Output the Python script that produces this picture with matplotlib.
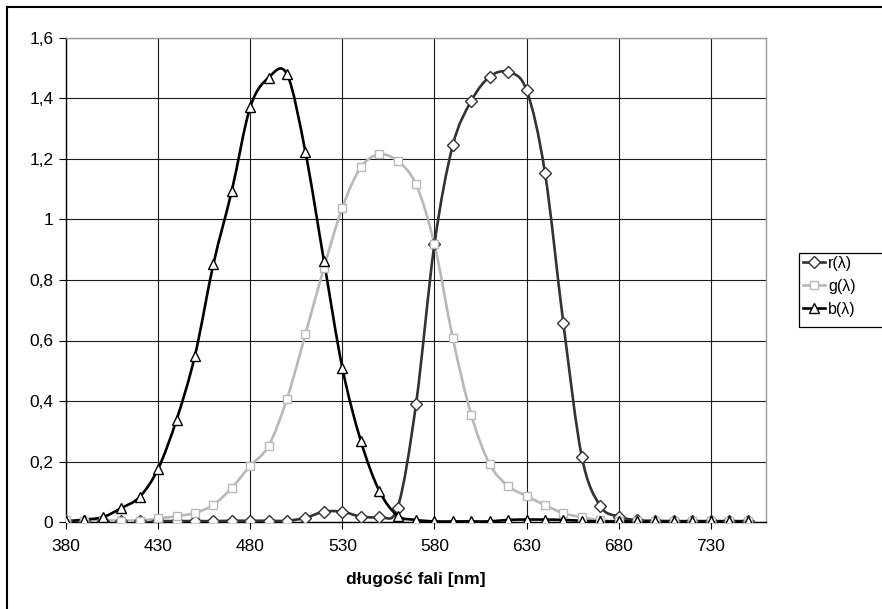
import numpy as np
import matplotlib
matplotlib.use("Agg")
import matplotlib.pyplot as plt
from matplotlib.path import Path
from matplotlib.patches import PathPatch, Rectangle
from matplotlib.lines import Line2D
from matplotlib.ticker import FuncFormatter, MultipleLocator

plt.rcParams['font.family'] = ['Liberation Sans', 'DejaVu Sans']

# data -----------------------------------------------------------------------
wavelength = list(range(380, 760, 10))

r_vals = [0.003, 0.003, 0.003, 0.003, 0.003, 0.003, 0.003, 0.003, 0.003, 0.004,
          0.004, 0.004, 0.004, 0.014, 0.034, 0.034, 0.018, 0.018, 0.047, 0.389,
          0.918, 1.246, 1.392, 1.472, 1.487, 1.428, 1.155, 0.657, 0.216, 0.053,
          0.018, 0.006, 0.004, 0.003, 0.003, 0.003, 0.003, 0.003]

g_vals = [0.005, 0.004, 0.004, 0.003, 0.004, 0.012, 0.019, 0.030, 0.057, 0.113,
          0.186, 0.252, 0.408, 0.621, 0.840, 1.039, 1.172, 1.215, 1.193, 1.116,
          0.918, 0.607, 0.354, 0.191, 0.119, 0.086, 0.056, 0.029, 0.016, 0.006,
          0.003, 0.002, 0.002, 0.002, 0.002, 0.002, 0.002, 0.002]

b_vals = [0.002, 0.008, 0.016, 0.046, 0.083, 0.176, 0.338, 0.550, 0.852, 1.095,
          1.371, 1.469, 1.480, 1.222, 0.864, 0.510, 0.269, 0.104, 0.021, 0.007,
          0.002, 0.002, 0.002, 0.002, 0.007, 0.008, 0.008, 0.007, 0.004, 0.002,
          0.002, 0.002, 0.002, 0.002, 0.002, 0.002, 0.002, 0.002]

labels = ["r(λ)", "g(λ)", "b(λ)"]
x_ticks = list(range(380, 760, 50))


def smooth_path(x, y):
    # excel-like smoothed line: bezier with catmull-rom control points
    x = np.asarray(x, float)
    y = np.asarray(y, float)
    px = np.concatenate([[x[0]], x, [x[-1]]])
    py = np.concatenate([[y[0]], y, [y[-1]]])
    verts = [(x[0], y[0])]
    codes = [Path.MOVETO]
    for i in range(1, len(px) - 2):
        c1 = (px[i] + (px[i + 1] - px[i - 1]) / 6, py[i] + (py[i + 1] - py[i - 1]) / 6)
        c2 = (px[i + 1] - (px[i + 2] - px[i]) / 6, py[i + 1] - (py[i + 2] - py[i]) / 6)
        verts += [c1, c2, (px[i + 1], py[i + 1])]
        codes += [Path.CURVE4] * 3
    return Path(verts, codes)


# plot -----------------------------------------------------------------------
fig = plt.figure(figsize=(8.82, 6.09), dpi=100)
ax = fig.add_axes([66 / 882, 1 - 522 / 609, 700 / 882, 484 / 609])

styles = [
    (r_vals, '#333333', 'D', 5.8),
    (g_vals, '#b8b8b8', 's', 5.8),
    (b_vals, '#000000', '^', 6.8),
]
handles = []
for (vals, col, mk, ms), lab in zip(styles, labels):
    patch = PathPatch(smooth_path(wavelength, vals), facecolor='none',
                      edgecolor=col, lw=1.9, zorder=3)
    ax.add_patch(patch)
    ax.plot(wavelength, vals, linestyle='none', marker=mk, markersize=ms,
            markerfacecolor='white', markeredgecolor=col, markeredgewidth=1.0,
            zorder=4)
    handles.append(Line2D([], [], color=col, lw=1.9, marker=mk, markersize=ms,
                          markerfacecolor='white', markeredgecolor=col,
                          markeredgewidth=1.0, label=lab))

# Formatting -----------------------------------------------------------------
ax.set_xlim(380, 760)
ax.set_ylim(0, 1.6)
ax.set_xticks(x_ticks)
ax.yaxis.set_major_locator(MultipleLocator(0.2))
ax.yaxis.set_major_formatter(FuncFormatter(
    lambda v, p: f"{round(v, 1):g}".replace('.', ',')))

ax.grid(True, color='#1a1a1a', lw=0.8)
ax.set_axisbelow(True)
for side in ['top', 'right']:
    ax.spines[side].set_color('#999999')
    ax.spines[side].set_linewidth(1.0)
for side in ['left', 'bottom']:
    ax.spines[side].set_color('black')
    ax.spines[side].set_linewidth(1.0)
ax.tick_params(direction='out', length=5, width=0.8, labelsize=12.5, pad=4)
ax.tick_params(axis='x', pad=7)

ax.set_xlabel("długość fali [nm]", fontsize=12.5, fontweight='bold', labelpad=13)

leg = fig.legend(handles=handles, loc='upper left',
                 bbox_to_anchor=(798 / 882, 1 - 251 / 609), frameon=False,
                 fontsize=11.5, handlelength=1.4, handletextpad=0.2,
                 labelspacing=0.5, borderaxespad=0, borderpad=0.3)
fig.add_artist(Rectangle((799 / 882, 1 - 327 / 609), 100 / 882, 74 / 609,
                         transform=fig.transFigure, facecolor='none',
                         edgecolor='black', lw=0.9, clip_on=False))

# outer chart border (only top and left visible)
fig.add_artist(Line2D([7 / 882, 1.0], [1 - 7 / 609, 1 - 7 / 609],
                      transform=fig.transFigure, color='black', lw=1.5))
fig.add_artist(Line2D([7 / 882, 7 / 882], [0.0, 1 - 7 / 609],
                      transform=fig.transFigure, color='black', lw=1.5))

fig.savefig("out.png", dpi=100)
